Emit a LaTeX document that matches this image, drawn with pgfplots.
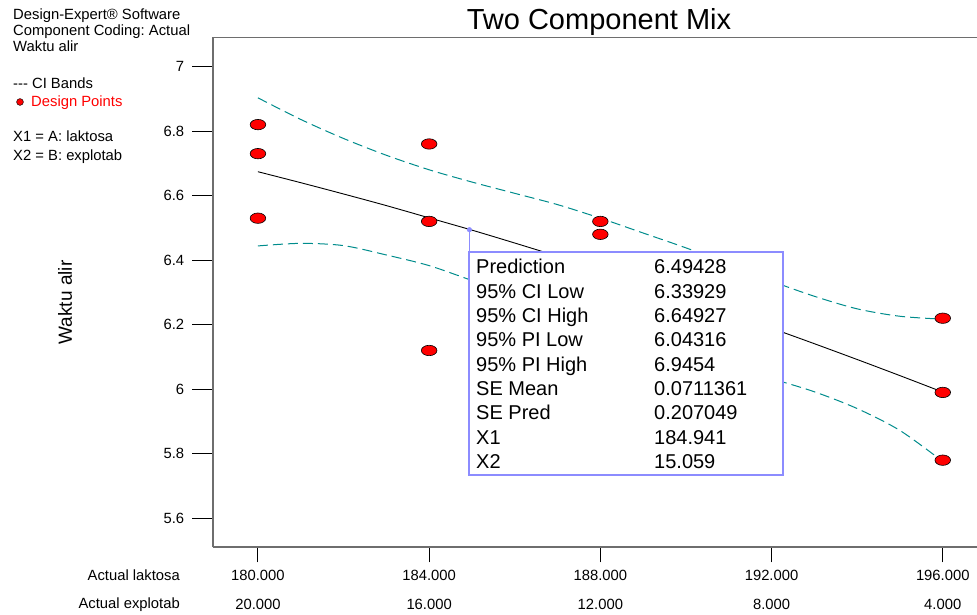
\documentclass[border=0pt]{standalone}
\usepackage{fontspec}
\setmainfont{Liberation Sans}
\usepackage{pgfplots}
\pgfplotsset{compat=1.18}
\definecolor{ciband}{RGB}{0,140,140}
\definecolor{boxblue}{RGB}{140,140,255}
\definecolor{axisgray}{RGB}{110,110,110}
\newcommand{\fs}{\fontsize{14.8}{17}\selectfont}
\frenchspacing
\begin{document}
\begin{tikzpicture}[x=1pt,y=1pt]
\path[use as bounding box] (0,0) rectangle (977,615);
\begin{axis}[
  at={(213pt,67.7pt)}, anchor=south west, scale only axis,
  width=764pt, height=509.8pt,
  xmin=178.95, xmax=196.80, ymin=5.510, ymax=7.090,
  axis line style={draw=none},
  tick align=outside,
  xtick pos=bottom, ytick pos=left,
  xtick={180,184,188,192,196},
  xticklabels={{180.000\\20.000},{184.000\\16.000},{188.000\\12.000},{192.000\\8.000},{196.000\\4.000}},
  ytick={5.6,5.8,6,6.2,6.4,6.6,6.8,7},
  yticklabels={5.6,5.8,6,6.2,6.4,6.6,6.8,7},
  xtick style={black, line width=0.9pt, /pgfplots/major tick length=15pt},
  ytick style={black, line width=0.9pt, /pgfplots/major tick length=21pt},
  xticklabel style={align=center, font=\fontsize{14.8}{28.5}\selectfont, yshift=-15.5pt},
  yticklabel style={font=\fs, xshift=-21pt},
  /pgf/number format/assume math mode=true,
]
\addplot[ciband, line width=1pt, dash pattern=on 10pt off 5pt, smooth] coordinates {
(180,6.903) (181,6.836) (182,6.777) (183,6.725) (184,6.680) (185,6.642) (186,6.607) (187,6.572) (188,6.530) (189,6.484) (190,6.438) (191,6.388) (192,6.335) (193,6.288) (194,6.249) (195,6.226) (196,6.217)};
\addplot[ciband, line width=1pt, dash pattern=on 10pt off 5pt, smooth] coordinates {
(180,6.444) (181,6.452) (182,6.445) (183,6.416) (184,6.383) (185,6.337) (186,6.292) (187,6.248) (188,6.205) (189,6.163) (190,6.120) (191,6.076) (192,6.033) (193,5.992) (194,5.940) (195,5.872) (196,5.776)};
\addplot[black, line width=0.9pt, smooth] coordinates {
(180,6.674) (181,6.640) (182,6.605) (183,6.569) (184,6.531) (185,6.493) (186,6.453) (187,6.412) (188,6.370) (189,6.327) (190,6.282) (191,6.236) (192,6.189) (193,6.141) (194,6.092) (195,6.042) (196,5.991)};
\addplot[only marks, mark=*, mark size=5.2pt, mark options={xscale=1.5, fill=red, draw=black, line width=0.6pt}] coordinates {
(180,6.82) (180,6.73) (180,6.53) (184,6.76) (184,6.52) (184,6.12) (188,6.52) (188,6.48) (196,6.22) (196,5.99) (196,5.78)};
\addplot[only marks, mark=*, mark size=2.3pt, boxblue] coordinates {(184.941,6.49428)};
\end{axis}
% frame
\draw[axisgray, line width=1.6pt] (213,67.7) -- (977,67.7);
\draw[axisgray, line width=1.6pt] (213,67.7) -- (213,577.5) -- (977,577.5);
% info box
\draw[boxblue, line width=1.5pt] (469.3,385.5) -- (469.3,362.7);
\draw[boxblue, line width=1.8pt, fill=white] (469.3,140) rectangle (782.7,362.7);
\foreach \l/\v [count=\i from 0] in {Prediction/6.49428, 95\% CI Low/6.33929, 95\% CI High/6.64927, 95\% PI Low/6.04316, 95\% PI High/6.9454, SE Mean/0.0711361, SE Pred/0.207049, X1/184.941, X2/15.059}{
  \node[anchor=base west, inner sep=0, font=\fontsize{20}{24}\selectfont] at (476,341-24.3*\i) {\l};
  \node[anchor=base west, inner sep=0, font=\fontsize{20}{24}\selectfont] at (654,341-24.3*\i) {\v};
}
% title
\node[anchor=base, inner sep=0, font=\fontsize{29}{34}\selectfont] at (599,585) {Two Component Mix};
% y label
\node[rotate=90, inner sep=0, font=\fontsize{19}{22}\selectfont] at (65,312.5) {Waktu alir};
% x row labels
\node[anchor=base east, inner sep=0, font=\fs] at (180,34.3) {Actual laktosa};
\node[anchor=base east, inner sep=0, font=\fs] at (180,6.3) {Actual explotab};
% top-left info
\node[anchor=base west, inner sep=0, font=\fs] at (13,595) {Design-Expert® Software};
\node[anchor=base west, inner sep=0, font=\fs] at (13,579.5) {Component Coding: Actual};
\node[anchor=base west, inner sep=0, font=\fs] at (13,563) {Waktu alir};
\node[anchor=base west, inner sep=0, font=\fs] at (13,526) {-\kern0pt-\kern0pt- CI Bands};
\fill[red, draw=black, line width=0.5pt] (20,513) circle (3.4);
\node[anchor=base west, inner sep=0, font=\fs, text=red] at (31,508) {Design Points};
\node[anchor=base west, inner sep=0, font=\fs] at (13,473) {X1 = A: laktosa};
\node[anchor=base west, inner sep=0, font=\fs] at (13,454.5) {X2 = B: explotab};
\end{tikzpicture}
\end{document}
